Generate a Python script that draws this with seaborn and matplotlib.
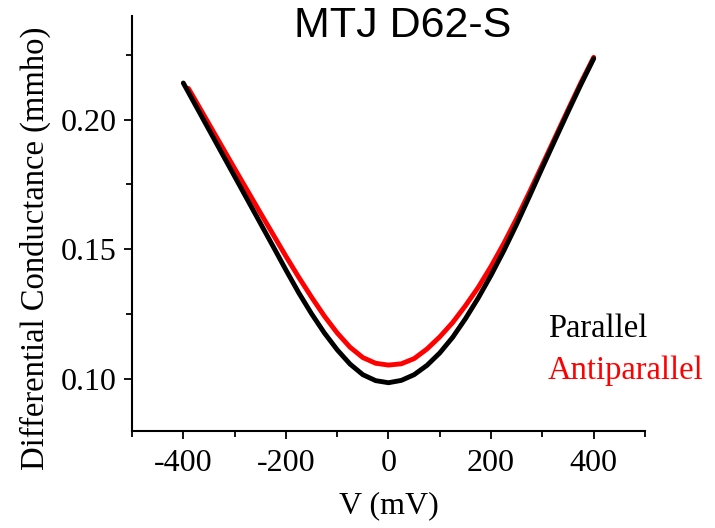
import numpy as np
import pandas as pd
import matplotlib
matplotlib.use("Agg")
import matplotlib.pyplot as plt
import seaborn as sns
from matplotlib.ticker import MultipleLocator, FormatStrFormatter

# bias voltage (mV) and conductance (mmho)
v_par = [-400, -375, -350, -325, -300, -275, -250, -225, -200, -175, -150, -125,
         -100, -75, -50, -25, 0, 25, 50, 75, 100, 125, 150, 175, 200, 225,
         250, 275, 300, 325, 350, 375, 400]
g_par = [0.2141, 0.2051, 0.1961, 0.1871, 0.1781, 0.1691, 0.1601, 0.1511, 0.1420, 0.1332,
         0.1251, 0.1177, 0.1112, 0.1057, 0.1016, 0.0993, 0.0985, 0.0994, 0.1016, 0.1052,
         0.1100, 0.1160, 0.1232, 0.1312, 0.1400, 0.1495, 0.1597, 0.1705, 0.1815, 0.1923,
         0.2030, 0.2135, 0.2235]

v_anti = [-390, -375, -350, -325, -300, -275, -250, -225, -200, -175, -150, -125,
          -100, -75, -50, -25, 0, 25, 50, 75, 100, 125, 150, 175, 200, 225,
          250, 275, 300, 325, 350, 375, 400]
g_anti = [0.2120, 0.2069, 0.1983, 0.1897, 0.1811, 0.1726, 0.1641, 0.1557, 0.1473, 0.1392,
          0.1315, 0.1242, 0.1177, 0.1122, 0.1082, 0.1060, 0.1053, 0.1058, 0.1078, 0.1115,
          0.1162, 0.1217, 0.1282, 0.1353, 0.1434, 0.1523, 0.1619, 0.1721, 0.1826, 0.1932,
          0.2038, 0.2142, 0.2240]

sns.set_style("ticks")
plt.rcParams["font.family"] = ["Liberation Serif", "DejaVu Serif"]
plt.rcParams["axes.unicode_minus"] = False
plt.rcParams["text.color"] = "black"
plt.rcParams["axes.labelcolor"] = "black"

fig = plt.figure(figsize=(7.15, 5.28), dpi=100)
ax = fig.add_axes([0.1846, 0.1843, 0.7175, 0.7857])

sns.lineplot(x=v_anti, y=g_anti, ax=ax, color="#ff0000", lw=3.5, sort=False, estimator=None)
sns.lineplot(x=v_par, y=g_par, ax=ax, color="black", lw=3.5, sort=False, estimator=None)

ax.set_xlim(-500, 500)
ax.set_ylim(0.08, 0.24)
ax.xaxis.set_major_locator(MultipleLocator(200))
ax.xaxis.set_minor_locator(MultipleLocator(100))
ax.yaxis.set_major_locator(MultipleLocator(0.05))
ax.yaxis.set_minor_locator(MultipleLocator(0.025))
ax.yaxis.set_major_formatter(FormatStrFormatter("%.2f"))

for s in ["top", "right"]:
    ax.spines[s].set_visible(False)
for s in ["left", "bottom"]:
    ax.spines[s].set_linewidth(1.5)
    ax.spines[s].set_color("black")

ax.tick_params(which="major", direction="out", length=6, width=1.3, labelsize=23,
               colors="black", pad=5)
ax.tick_params(which="minor", direction="out", length=4, width=1.3, colors="black")
ax.tick_params(axis="x", which="major", pad=7)

ax.set_xlabel("V (mV)", fontsize=23, labelpad=10)
ax.set_ylabel("Differential Conductance (mmho)", fontsize=23.5)
ax.yaxis.set_label_coords(-0.158, 0.44)

fig.text(0.563, 0.951, "MTJ D62-S", fontsize=31, ha="center", va="center",
         family=["Liberation Sans", "DejaVu Sans"])
fig.text(0.766, 0.378, "Parallel", fontsize=23.5, color="black", ha="left", va="center")
fig.text(0.766, 0.297, "Antiparallel", fontsize=23.5, color="#ff0000", ha="left", va="center")

fig.savefig("out.png", dpi=100)
